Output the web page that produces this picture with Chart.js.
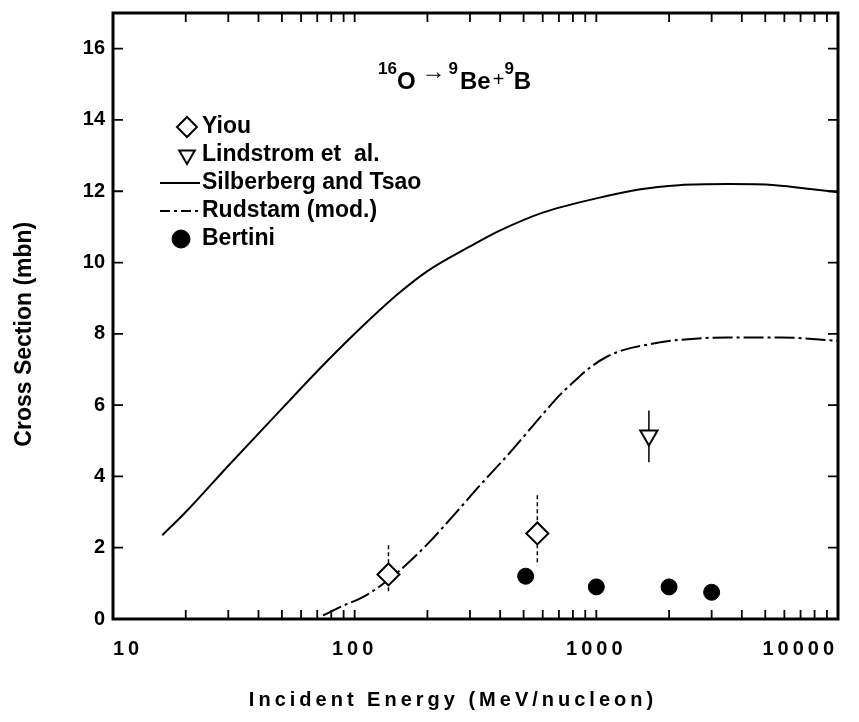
<!DOCTYPE html>
<html>
<head>
<meta charset="utf-8">
<script src="https://cdn.jsdelivr.net/npm/chart.js@4.4.0/dist/chart.umd.min.js"></script>
<style>
  html, body { margin: 0; padding: 0; background: #fff; }
  canvas { display: block; }
</style>
</head>
<body>
<canvas id="xsChart" width="859" height="722"></canvas>
<script>
// tick values
const energyLabels = [10, 100, 1000, 10000];
const energyMinor = [20, 30, 40, 50, 60, 70, 80, 90,
                     200, 300, 400, 500, 600, 700, 800, 900,
                     2000, 3000, 4000, 5000, 6000, 7000, 8000, 9000];
const xsTicks = [0, 2, 4, 6, 8, 10, 12, 14, 16];

// Silberberg and Tsao (solid curve), energy in MeV/nucleon, cross section in mb
const silbergEnergy = [16, 20, 30, 50, 70, 100, 150, 200, 300, 400, 600, 1000, 1500, 2200, 3500, 5500, 8000, 10000];
const silbergXs = [2.35, 3.0, 4.3, 5.9, 6.95, 8.0, 9.1, 9.76, 10.45, 10.9, 11.4, 11.8, 12.05, 12.17, 12.2, 12.17, 12.05, 11.97];

// Rudstam (mod.) (dash-dot curve)
const rudstamEnergy = [74, 90, 105, 120, 150, 200, 260, 330, 430, 520, 610, 710, 820, 940, 1100, 1300, 1700, 2200, 3500, 5800, 10000];
const rudstamXs = [0.1, 0.38, 0.57, 0.8, 1.3, 2.1, 2.95, 3.75, 4.6, 5.25, 5.8, 6.3, 6.7, 7.05, 7.35, 7.55, 7.72, 7.83, 7.9, 7.9, 7.8];

// Yiou (open diamonds with error bars)
const yiouEnergy = [138, 570];
const yiouXs = [1.25, 2.4];
const yiouLow = [0.73, 1.5];
const yiouHigh = [2.07, 3.47];

// Lindstrom et al. (open triangle)
const lindEnergy = [1650];
const lindXs = [5.15];
const lindLow = [4.4];
const lindHigh = [5.85];

// Bertini (filled circles)
const bertiniEnergy = [510, 1000, 2000, 3000];
const bertiniXs = [1.2, 0.9, 0.9, 0.75];

const FONT = '"Liberation Sans", Arial, Helvetica, sans-serif';
Chart.defaults.font.family = FONT;
Chart.defaults.color = '#000';

const toXY = (xs, ys) => xs.map((v, i) => ({ x: v, y: ys[i] }));

const extras = {
  id: 'extras',
  beforeDraw(chart) {
    chart.ctx.letterSpacing = '0px';
  },
  beforeDatasetsDraw(chart) {
    // error bars under the markers
    const { ctx, scales: { x, y } } = chart;
    ctx.save();
    ctx.strokeStyle = '#000';
    ctx.lineWidth = 1.5;
    ctx.setLineDash([4, 3]);
    yiouEnergy.forEach((e, i) => {
      const px = x.getPixelForValue(e);
      ctx.beginPath();
      ctx.moveTo(px, y.getPixelForValue(yiouHigh[i]));
      ctx.lineTo(px, y.getPixelForValue(yiouLow[i]));
      ctx.stroke();
    });
    ctx.setLineDash([]);
    lindEnergy.forEach((e, i) => {
      const px = x.getPixelForValue(e);
      ctx.beginPath();
      ctx.moveTo(px, y.getPixelForValue(lindHigh[i]));
      ctx.lineTo(px, y.getPixelForValue(lindLow[i]));
      ctx.stroke();
    });
    ctx.restore();
  },
  afterDatasetsDraw(chart) {
    // x tick labels are drawn after this (ticks.z = 1), spaced out like the original
    chart.ctx.letterSpacing = '4px';
  },
  afterDraw(chart) {
    const { ctx, chartArea: a, scales: { x, y } } = chart;
    ctx.save();
    ctx.letterSpacing = '0px';
    ctx.strokeStyle = '#000';
    ctx.fillStyle = '#000';

    // frame
    ctx.lineWidth = 3;
    ctx.strokeRect(a.left, a.top, a.right - a.left, a.bottom - a.top);

    // inward ticks on all four sides
    ctx.lineWidth = 1.8;
    ctx.beginPath();
    energyMinor.concat(energyLabels).forEach(v => {
      const px = x.getPixelForValue(v);
      ctx.moveTo(px, a.bottom); ctx.lineTo(px, a.bottom - 9);
      ctx.moveTo(px, a.top); ctx.lineTo(px, a.top + 9);
    });
    xsTicks.forEach(v => {
      const py = y.getPixelForValue(v);
      ctx.moveTo(a.left, py); ctx.lineTo(a.left + 10, py);
      ctx.moveTo(a.right, py); ctx.lineTo(a.right - 10, py);
    });
    ctx.stroke();

    // legend
    ctx.font = 'bold 23px ' + FONT;
    ctx.textBaseline = 'middle';
    ctx.textAlign = 'left';
    chart.data.datasets.forEach((ds, i) => {
      const rowY = a.top + 114 + i * 28;
      ctx.save();
      ctx.strokeStyle = '#000';
      if (ds.showLine === false) {
        ctx.fillStyle = ds.pointBackgroundColor;
        ctx.lineWidth = ds.pointBorderWidth;
        const sx = ds.pointStyle === 'circle' ? a.left + 68 : a.left + 74;
        Chart.helpers.drawPoint(ctx, {
          pointStyle: ds.pointStyle,
          rotation: ds.pointRotation || 0,
          radius: ds.legendRadius,
          borderWidth: ds.pointBorderWidth
        }, sx, rowY);
      } else {
        ctx.lineWidth = ds.borderWidth;
        ctx.setLineDash(ds.legendDash || []);
        ctx.beginPath();
        ctx.moveTo(a.left + 47, rowY);
        ctx.lineTo(a.left + 87, rowY);
        ctx.stroke();
      }
      ctx.restore();
      ctx.fillText(ds.label, a.left + 89, rowY);
    });

    // reaction label 16O -> 9Be + 9B
    const sup = 'bold 17px ' + FONT;
    const base = 'bold 24px ' + FONT;
    const by = a.top + 76;
    const sy = by - 15;
    let cx = a.left + 265;
    ctx.textBaseline = 'alphabetic';
    const put = (txt, font, yy, gap) => {
      ctx.font = font;
      ctx.fillText(txt, cx, yy);
      cx += ctx.measureText(txt).width + (gap || 0);
    };
    put('16', sup, sy);
    put('O', base, by, 6);
    put('\u2192', '24px ' + FONT, by - 10, 3);
    put('9', sup, sy, 2);
    put('Be', base, by, 2);
    put('+', '20px ' + FONT, by - 3, 0);
    put('9', sup, sy, 0);
    put('B', base, by);

    // axis titles
    ctx.textAlign = 'center';
    ctx.textBaseline = 'middle';
    ctx.font = 'bold 23px ' + FONT;
    ctx.save();
    ctx.translate(25, a.top + (a.bottom - a.top) * 0.53);
    ctx.rotate(-Math.PI / 2);
    ctx.fillText('Cross Section (mbn)', 0, 0);
    ctx.restore();

    ctx.font = 'bold 20px ' + FONT;
    ctx.letterSpacing = '4px';
    ctx.fillText('Incident Energy (MeV/nucleon)', a.left + 340, 700);
    ctx.restore();
  }
};

const ctx = document.getElementById('xsChart').getContext('2d');
const chart = new Chart(ctx, {
  type: 'line',
  data: {
    datasets: [
      {
        label: 'Yiou',
        data: toXY(yiouEnergy, yiouXs),
        showLine: false,
        pointStyle: 'rectRot',
        pointRadius: 11,
        legendRadius: 10,
        pointBackgroundColor: '#fff',
        pointBorderColor: '#000',
        pointBorderWidth: 2
      },
      {
        label: 'Lindstrom et  al.',
        data: toXY(lindEnergy, lindXs),
        showLine: false,
        pointStyle: 'triangle',
        pointRotation: 180,
        pointRadius: 10,
        legendRadius: 9,
        pointBackgroundColor: '#fff',
        pointBorderColor: '#000',
        pointBorderWidth: 2
      },
      {
        label: 'Silberberg and Tsao',
        data: toXY(silbergEnergy, silbergXs),
        borderColor: '#000',
        borderWidth: 2,
        pointRadius: 0,
        fill: false,
        cubicInterpolationMode: 'monotone'
      },
      {
        label: 'Rudstam (mod.)',
        data: toXY(rudstamEnergy, rudstamXs),
        borderColor: '#000',
        borderWidth: 2,
        borderDash: [20, 4, 3, 4],
        legendDash: [10, 4, 3, 4],
        pointRadius: 0,
        fill: false,
        cubicInterpolationMode: 'monotone'
      },
      {
        label: 'Bertini',
        data: toXY(bertiniEnergy, bertiniXs),
        showLine: false,
        pointStyle: 'circle',
        pointRadius: 8,
        legendRadius: 9,
        pointBackgroundColor: '#000',
        pointBorderColor: '#000',
        pointBorderWidth: 1
      }
    ]
  },
  options: {
    responsive: false,
    animation: false,
    layout: { padding: { top: 9, right: 21, left: 0, bottom: 0 } },
    plugins: {
      legend: { display: false },
      tooltip: { enabled: false }
    },
    scales: {
      x: {
        type: 'logarithmic',
        min: 10,
        max: 10000,
        grid: { display: false, drawTicks: false },
        border: { display: false },
        afterBuildTicks: s => { s.ticks = energyLabels.map(v => ({ value: v })); },
        afterFit: s => { s.height = 103; s.paddingLeft = 0; s.paddingRight = 0; },
        ticks: {
          z: 1,
          autoSkip: false,
          maxRotation: 0,
          align: 'inner',
          padding: 18,
          font: { size: 20, weight: 'bold' },
          callback: v => String(v)
        }
      },
      y: {
        min: 0,
        max: 17,
        grid: { display: false, drawTicks: false },
        border: { display: false },
        afterBuildTicks: s => { s.ticks = xsTicks.map(v => ({ value: v })); },
        afterFit: s => { s.width = 113; s.paddingTop = 0; s.paddingBottom = 0; },
        ticks: {
          padding: 8,
          font: { size: 20, weight: 'bold' }
        }
      }
    }
  },
  plugins: [extras]
});
</script>
</body>
</html>
